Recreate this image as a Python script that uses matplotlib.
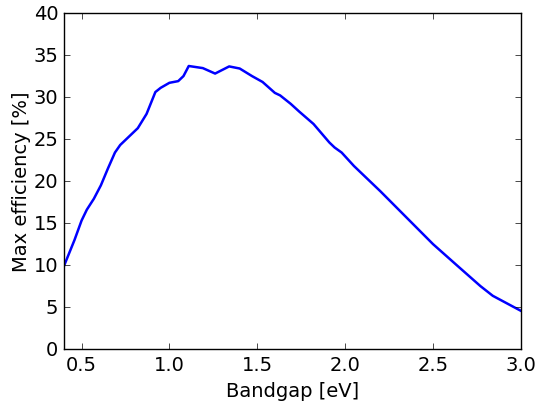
import matplotlib
matplotlib.use('Agg')
import matplotlib.pyplot as plt

# Bandgap [eV] and max efficiency [%]
bandgap = [0.40, 0.46, 0.50, 0.53, 0.57, 0.61, 0.65, 0.69, 0.72, 0.78,
           0.82, 0.87, 0.92, 0.95, 1.00, 1.05, 1.08, 1.11, 1.19, 1.26,
           1.34, 1.40, 1.47, 1.53, 1.60, 1.63, 1.69, 1.74, 1.82, 1.91,
           1.94, 1.98, 2.05, 2.20, 2.30, 2.50, 2.64, 2.77, 2.84, 3.00]
efficiency = [9.9, 13.0, 15.3, 16.6, 17.9, 19.5, 21.5, 23.4, 24.3, 25.5,
              26.3, 28.0, 30.6, 31.1, 31.7, 31.9, 32.5, 33.7, 33.45, 32.8,
              33.65, 33.4, 32.5, 31.8, 30.5, 30.2, 29.2, 28.25, 26.8, 24.6,
              24.0, 23.4, 21.8, 18.8, 16.7, 12.5, 9.9, 7.5, 6.35, 4.56]

plt.style.use('classic')
plt.rcParams['font.size'] = 14

fig = plt.figure(figsize=(5.35, 4.02), dpi=100, facecolor='white')
ax = fig.add_axes([0.1196, 0.129, 0.854, 0.836])
ax.plot(bandgap, efficiency, color='b', linewidth=1.8)

ax.set_xlim(0.4, 3.0)
ax.set_ylim(0, 40)
ax.set_xticks([0.5, 1.0, 1.5, 2.0, 2.5, 3.0])
ax.set_yticks(range(0, 41, 5))
ax.set_xlabel('Bandgap [eV]')
ax.set_ylabel('Max efficiency [%]', labelpad=2)

fig.savefig('out.png', dpi=100, facecolor='white')
